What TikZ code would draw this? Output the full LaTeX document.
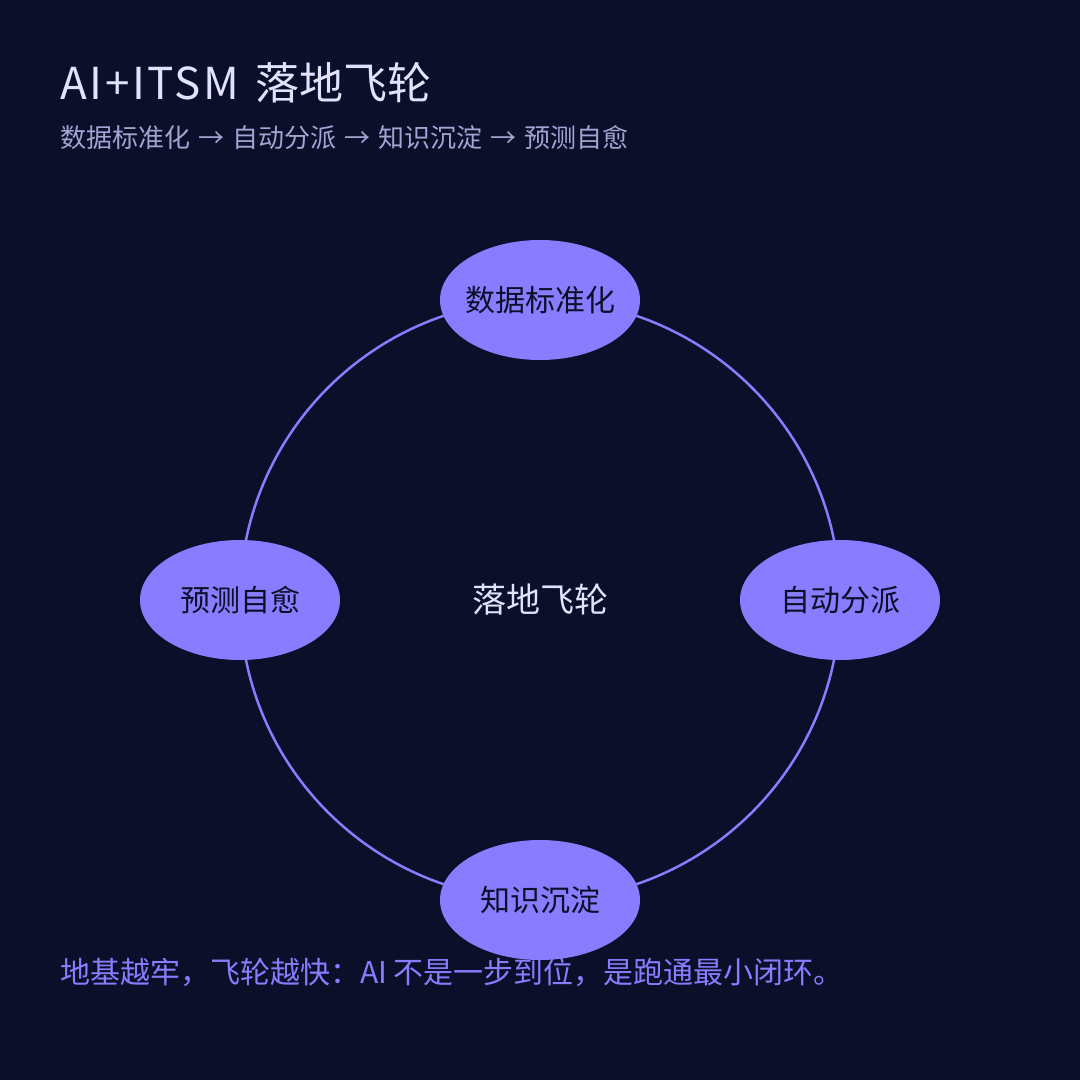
\documentclass[tikz,border=0pt]{standalone}
\usepackage{fontspec}
\setmainfont{Noto Sans CJK SC}
\usetikzlibrary{shapes.geometric}
\definecolor{bg}{HTML}{0B0F29}
\definecolor{accent}{HTML}{8B7BFF}
\definecolor{titlec}{HTML}{E2E2FF}
\definecolor{subc}{HTML}{A4A4D4}
\newcommand{\sarrow}{\hspace{2.2pt} → \hspace{2.2pt}}
\tikzset{
  stage/.style={ellipse, fill=accent, minimum width=200pt, minimum height=120pt, inner sep=-20pt, text=bg, font=\fontsize{30}{34}\selectfont},
}
\begin{document}
\begin{tikzpicture}[x=1pt,y=-1pt]
\fill[bg] (0,0) rectangle (1080,1080);
\useasboundingbox (0,0) rectangle (1080,1080);
\node[anchor=base west, text=titlec, font=\fontsize{44}{50}\selectfont, inner sep=0pt] (title) at (60,99) {{\addfontfeature{LetterSpace=6}AI+ITSM}\hspace{16pt}落地飞轮};
\node[anchor=base west, text=subc, font=\fontsize{26}{30}\selectfont, inner sep=0pt] (sub) at (60,147) {数据标准化\sarrow 自动分派\sarrow 知识沉淀\sarrow 预测自愈};
\coordinate (c) at (540,600);
\draw[accent, line width=2.5pt] (c) circle[radius=300];
\node[stage] (a) at (540,300) {数据标准化};
\node[stage] (b) at (840,600) {自动分派};
\node[stage] (d) at (540,900) {知识沉淀};
\node[stage] (e) at (240,600) {预测自愈};
\node[text=titlec, font=\fontsize{34}{38}\selectfont] (center) at (c) {落地飞轮};
\node[anchor=base west, text=accent, font=\fontsize{30}{34}\selectfont, inner sep=0pt] (foot) at (60,983) {地基越牢，飞轮越快：AI 不是一步到位，是跑通最小闭环。};
\end{tikzpicture}
\end{document}
